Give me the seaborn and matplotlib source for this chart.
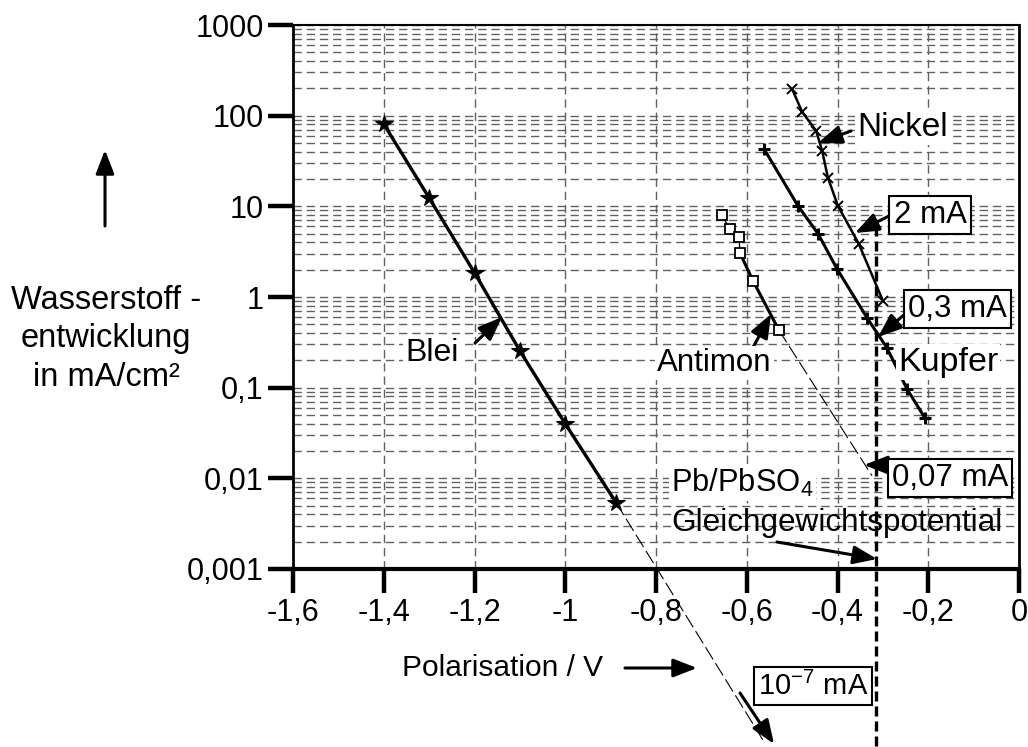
import numpy as np
import pandas as pd
import matplotlib
matplotlib.use("Agg")
import matplotlib.pyplot as plt
import matplotlib.ticker as mticker
from matplotlib import font_manager
import seaborn as sns

# ---------------- data ----------------
blei_x = [-1.4, -1.3, -1.2, -1.1, -1.0, -0.888]
blei_y = [81, 12.4, 1.85, 0.255, 0.04, 0.0054]
blei_ext_x = [-0.888, -0.56]
blei_ext_y = [0.0054, 1.2e-5]

antimon_x = [-0.655, -0.637, -0.617, -0.615, -0.586, -0.529]
antimon_y = [8.0, 5.6, 4.6, 3.06, 1.5, 0.43]
antimon_ext_x = [-0.529, -0.324]
antimon_ext_y = [0.43, 0.0107]

kupfer_x = [-0.562, -0.487, -0.443, -0.401, -0.335, -0.291, -0.247, -0.207]
kupfer_y = [43, 10.1, 5.0, 2.04, 0.59, 0.275, 0.097, 0.046]

nickel_x = [-0.500, -0.478, -0.447, -0.434, -0.421, -0.399, -0.353, -0.300]
nickel_y = [197, 110, 68, 41, 20.6, 10.1, 3.85, 0.91]

pb_eq_x = -0.315
pb_eq_y = [6.0, 1.1e-5]

x_ticks = [-1.6, -1.4, -1.2, -1.0, -0.8, -0.6, -0.4, -0.2, 0.0]
x_tick_labels = ["-1,6", "-1,4", "-1,2", "-1", "-0,8", "-0,6", "-0,4", "-0,2", "0"]
y_ticks = [0.001, 0.01, 0.1, 1, 10, 100, 1000]
y_tick_labels = ["0,001", "0,01", "0,1", "1", "10", "100", "1000"]

# ---------------- style ----------------
sns.set_theme(style="white")
plt.rcParams["font.family"] = ["Liberation Sans", "DejaVu Sans"]
plt.rcParams["mathtext.fontset"] = "custom"
plt.rcParams["mathtext.rm"] = "Liberation Sans"
plt.rcParams["mathtext.it"] = "Liberation Sans"
for k in ["text.color", "xtick.color", "ytick.color", "axes.labelcolor"]:
    plt.rcParams[k] = "black"

installed = {f.name for f in font_manager.fontManager.ttflist}
has_narrow = "Liberation Sans Narrow" in installed

W, H = 1028, 747
fig = plt.figure(figsize=(W / 100, H / 100), dpi=100)
ax = fig.add_axes([293 / W, (H - 569) / H, (1019 - 293) / W, (569 - 25) / H])

ax.set_yscale("log")
ax.set_xlim(-1.6, 0)
ax.set_ylim(0.001, 1000)

grid_kw = dict(color="0.38", linewidth=1.0, linestyle=(0, (6, 3.5)))
ax.yaxis.set_minor_locator(mticker.LogLocator(base=10, subs=np.arange(2, 10)))
ax.yaxis.set_minor_formatter(mticker.NullFormatter())
ax.grid(which="both", axis="y", **grid_kw)
ax.grid(which="major", axis="x", **grid_kw)
ax.set_axisbelow(True)

ax.set_xticks(x_ticks)
ax.set_xticklabels(x_tick_labels)
ax.set_yticks(y_ticks)
ax.set_yticklabels(y_tick_labels)
ax.tick_params(axis="x", which="major", direction="out", length=17, width=3.2,
               color="black", labelcolor="black", labelsize=22, pad=4,
               bottom=True, top=False)
ax.tick_params(axis="y", which="major", direction="out", length=18, width=3.2,
               color="black", labelcolor="black", labelsize=22, pad=3,
               left=True, right=False)
ax.tick_params(axis="y", which="minor", length=0, left=False)
for side, lw in [("left", 2.0), ("bottom", 3.0), ("top", 1.5), ("right", 2.0)]:
    ax.spines[side].set_color("black")
    ax.spines[side].set_linewidth(lw)
    ax.spines[side].set_visible(True)

# ---------------- data lines ----------------
df_blei = pd.DataFrame({"x": blei_x, "y": blei_y})
df_ant = pd.DataFrame({"x": antimon_x, "y": antimon_y})
df_kup = pd.DataFrame({"x": kupfer_x, "y": kupfer_y})
df_nic = pd.DataFrame({"x": nickel_x, "y": nickel_y})

sns.lineplot(data=df_blei, x="x", y="y", ax=ax, sort=False, color="black",
             linewidth=2.4, marker="*", markersize=13, markeredgecolor="black",
             markerfacecolor="black", zorder=5)
sns.lineplot(data=df_ant, x="x", y="y", ax=ax, sort=False, color="black",
             linewidth=1.0, marker="s", markersize=6.5, markerfacecolor="white",
             markeredgecolor="black", markeredgewidth=1.3, zorder=5)
sns.lineplot(data=df_ant.iloc[3:], x="x", y="y", ax=ax, sort=False, color="black",
             linewidth=2.2, zorder=4)
sns.lineplot(data=df_kup, x="x", y="y", ax=ax, sort=False, color="black",
             linewidth=2.2, marker="+", markersize=9, markeredgewidth=2.2,
             markeredgecolor="black", zorder=5)
sns.lineplot(data=df_nic, x="x", y="y", ax=ax, sort=False, color="black",
             linewidth=1.8, marker="x", markersize=7, markeredgewidth=1.4,
             markeredgecolor="black", zorder=5)

# extrapolations (thin dashed)
ax.plot(blei_ext_x, blei_ext_y, color="black", linewidth=0.8,
        linestyle=(0, (13, 4)), clip_on=False, zorder=4)
ax.plot(antimon_ext_x, antimon_ext_y, color="black", linewidth=0.8,
        linestyle=(0, (13, 4)), clip_on=False, zorder=4)
# Pb/PbSO4 equilibrium potential
ax.plot([pb_eq_x, pb_eq_x], pb_eq_y, color="black", linewidth=2.4,
        linestyle=(0, (3, 1.5)), clip_on=False, zorder=6)

ax.set_xlabel("")
ax.set_ylabel("")
if ax.get_legend() is not None:
    ax.get_legend().remove()

# ---------------- annotations (figure pixel coordinates) ----------------
def P(x, y):
    return (x, H - y)

arrow_kw = dict(arrowstyle="-|>,head_length=0.9,head_width=0.35", color="black",
                lw=2.2, mutation_scale=16, shrinkA=0, shrinkB=0)

def arrow(x0, y0, x1, y1):
    ax.annotate("", xy=P(x1, y1), xycoords="figure pixels",
                xytext=P(x0, y0), textcoords="figure pixels",
                arrowprops=arrow_kw, annotation_clip=False, zorder=8)

FS = 23.5
white = dict(facecolor="white", edgecolor="none", pad=1.5)
boxed = dict(facecolor="white", edgecolor="black", linewidth=1.5, pad=3)

def text(x, y, s, ha="left", bbox=None, size=FS, **kw):
    fig.text(x / W, (H - y) / H, s, ha=ha, va="center", fontsize=size,
             color="black", bbox=bbox, zorder=7, **kw)

text(857, 127, "Nickel", bbox=white, size=24)
arrow(851, 131, 818, 143)

text(930, 215, "2 mA", ha="center", bbox=boxed, size=22.5)
arrow(889, 216, 855, 233)

text(957, 309, "0,3 mA", ha="center", bbox=boxed, size=22.5)
arrow(905, 314, 878, 337)

text(898, 362, "Kupfer", bbox=white, size=24.5)
arrow(917, 351, 893, 363)

text(657, 363, "Antimon", bbox=white, size=22.5)
arrow(750, 353, 771, 314)

text(405, 353, "Blei", bbox=white, size=23)
arrow(475, 343, 502, 317)

text(950, 478, "0,07 mA", ha="center", bbox=boxed, size=22.5)
arrow(889, 465, 864, 465)

text(671, 483, "Pb/PbSO$_\\mathregular{4}$", bbox=white, size=22.2)
text(671, 523, "Gleichgewichtspotential", size=22.7)
arrow(777, 542, 877, 559)

if has_narrow:
    narrow = ["Liberation Sans Narrow", "DejaVu Sans"]
    text(603, 668, "Polarisation / V", ha="right", size=24, family=narrow)
    text(813, 686, "10$^\\mathregular{-7}$ mA", ha="center", bbox=boxed,
         size=23, family=narrow)
else:
    text(603, 668, "Polarisation / V", ha="right", size=21.5)
    text(813, 686, "10$^\\mathregular{-7}$ mA", ha="center", bbox=boxed, size=21)
arrow(625, 668, 697, 668)
arrow(740, 693, 774, 744)

fig.text(106 / W, (H - 339) / H, "Wasserstoff -\nentwicklung\nin mA/cm²",
         ha="center", va="center", fontsize=FS, linespacing=1.3,
         multialignment="center", color="black")
arrow(105, 226, 105, 150)

fig.savefig("out.png", dpi=100)
